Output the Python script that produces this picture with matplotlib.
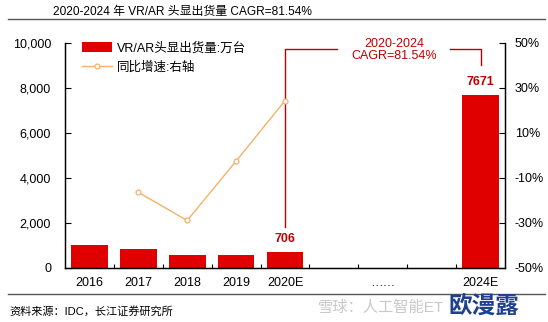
import numpy as np
import matplotlib.pyplot as plt
from matplotlib.lines import Line2D
from matplotlib.patches import Patch

plt.rcParams['font.family'] = ['Liberation Sans', 'Noto Sans CJK SC', 'DejaVu Sans']

categories = ['2016', '2017', '2018', '2019', '2020E', '', '……', '', '2024E']
shipments = [1010, 850, 585, 580, 706, None, None, None, 7671]
growth = [None, -16.5, -29.0, -2.6, 24.2, None, None, None, None]

bar_red = '#E00000'
dark_red = '#C00000'
line_orange = '#F4B26B'

fig = plt.figure(figsize=(5.48, 3.22), dpi=100)
ax = fig.add_axes([0.1186, 0.1686, 0.8029, 0.6988])
ax2 = ax.twinx()

x = np.arange(len(categories))
bx = [i for i, v in zip(x, shipments) if v is not None]
bv = [v for v in shipments if v is not None]
ax.bar(bx, bv, width=0.75, color=bar_red, zorder=2)

gx = [i for i, v in zip(x, growth) if v is not None]
gv = [v for v in growth if v is not None]
ax2.plot(gx, gv, color=line_orange, lw=1.0, marker='o', ms=3.5,
         mfc='white', mec=line_orange, mew=0.9)

ax.set_xlim(-0.5, len(categories) - 0.5)
ax.set_ylim(0, 10000)
ax.set_yticks(range(0, 10001, 2000))
ax.set_yticklabels([f'{v:,}' for v in range(0, 10001, 2000)])
ax2.set_ylim(-50, 50)
ax2.set_yticks(range(-50, 51, 20))
ax2.set_yticklabels([f'{v}%' for v in range(-50, 51, 20)])

ax.set_xticks(x)
ax.set_xticklabels(categories)
ax.set_xticks(np.arange(0.5, len(categories) - 0.5, 1), minor=True)
ax.tick_params(axis='x', which='major', length=0, pad=7, labelsize=9)
ax.tick_params(axis='x', which='minor', direction='in', length=3, width=0.8)
ax.tick_params(axis='y', direction='in', length=4, width=0.8, labelsize=9, pad=10)
ax2.tick_params(axis='y', direction='in', length=4, width=0.8, labelsize=9, pad=7)

for a in (ax, ax2):
    a.spines['top'].set_visible(False)
    for s in ('left', 'right', 'bottom'):
        a.spines[s].set_linewidth(0.9)
        a.spines[s].set_color('black')

# value labels
ax.text(4, shipments[4] + 570, f'{shipments[4]}', ha='center', va='center',
        color=dark_red, fontsize=9, fontweight='bold')
ax.text(8, shipments[8] + 600, f'{shipments[8]}', ha='center', va='center',
        color=dark_red, fontsize=9, fontweight='bold')

# CAGR bracket
ax.plot([4, 4, 5.06], [1800, 9700, 9700], color=dark_red, lw=1.0, clip_on=False)
ax.plot([7.37, 8.0, 8.0], [9700, 9700, 9000], color=dark_red, lw=1.0, clip_on=False)
ax.text(6.23, 9680, '2020-2024\nCAGR=81.54%', ha='center', va='center',
        color=dark_red, fontsize=9, linespacing=1.0)

handles = [Patch(facecolor=bar_red, edgecolor='none'),
           Line2D([], [], color=line_orange, lw=1.0, marker='o', ms=3.5,
                  mfc='white', mec=line_orange, mew=0.9)]
ax.legend(handles, ['VR/AR头显出货量:万台', '同比增速:右轴'], loc='upper left',
          frameon=False, fontsize=9, handlelength=2.4, handleheight=0.8,
          handletextpad=0.4, borderaxespad=0.1, bbox_to_anchor=(0.025, 1.03),
          labelspacing=0.55)

# header and footer
fig.text(0.097, 0.962, '2020-2024 年 VR/AR 头显出货量 CAGR=81.54%', fontsize=8.6,
         ha='left', va='center')
fig.add_artist(Line2D([0.015, 0.995], [0.941, 0.941], color='#555555', lw=1.0))
fig.add_artist(Line2D([0.015, 0.995], [0.087, 0.087], color='#555555', lw=1.0))
fig.text(0.018, 0.032, '资料来源：IDC，长江证券研究所', fontsize=8, ha='left', va='center')
fig.text(0.58, 0.045, '雪球：人工智能ET', fontsize=11, color='#C8C8C8',
         ha='left', va='center')
fig.text(0.948, 0.05, '欧漫露', fontsize=17, color='#1F3F8F', fontweight='bold',
         ha='right', va='center')

fig.savefig('out.png', dpi=100, facecolor='white')
